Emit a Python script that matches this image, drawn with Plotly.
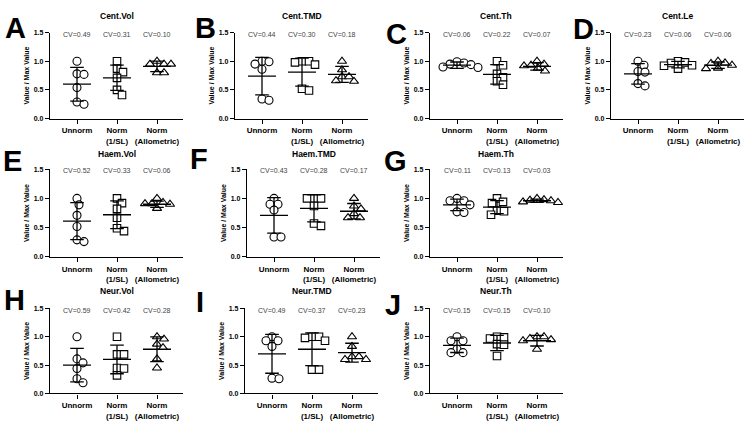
import plotly.graph_objects as go

# ---------------- data ----------------
titles = ["Cent.Vol", "Cent.TMD", "Cent.Th", "Cent.Le",
          "Haem.Vol", "Haem.TMD", "Haem.Th",
          "Neur.Vol", "Neur.TMD", "Neur.Th"]
letters = ["A", "B", "C", "D", "E", "F", "G", "H", "I", "J"]
categories = ["Unnorm", "Norm<br>(1/SL)", "Norm<br>(Allometric)"]
y_ticks = [0, 0.5, 1.0, 1.5]
y_tick_labels = ["0.0", "0.5", "1.0", "1.5"]

# points per group: [Unnorm, Norm (1/SL), Norm (Allometric)]
cent_vol = [[1.0, 0.78, 0.77, 0.54, 0.29, 0.25],
            [1.0, 0.87, 0.81, 0.71, 0.50, 0.41],
            [1.0, 0.95, 0.95, 0.95, 0.80, 0.80]]
cent_tmd = [[1.0, 0.99, 0.95, 0.86, 0.34, 0.32],
            [1.0, 1.0, 0.98, 0.94, 0.52, 0.49],
            [1.0, 0.85, 0.73, 0.73, 0.65, 0.66]]
cent_th = [[0.99, 0.97, 0.95, 0.94, 0.90, 0.89],
           [1.0, 0.93, 0.78, 0.72, 0.65, 0.59],
           [1.0, 0.95, 0.93, 0.92, 0.88, 0.83]]
cent_le = [[1.0, 0.93, 0.82, 0.81, 0.61, 0.57],
           [1.0, 0.98, 0.97, 0.93, 0.92, 0.87],
           [1.0, 0.97, 0.96, 0.93, 0.88, 0.87]]
haem_vol = [[1.0, 0.89, 0.71, 0.52, 0.29, 0.26],
            [1.0, 0.92, 0.82, 0.67, 0.49, 0.44],
            [1.0, 0.93, 0.91, 0.91, 0.90, 0.83]]
haem_tmd = [[1.0, 0.90, 0.90, 0.80, 0.34, 0.34],
            [1.0, 1.0, 1.0, 0.87, 0.57, 0.53],
            [1.0, 0.87, 0.82, 0.74, 0.67, 0.67]]
haem_th = [[1.0, 0.96, 0.96, 0.89, 0.77, 0.76],
           [1.0, 0.94, 0.92, 0.79, 0.78, 0.72],
           [1.0, 0.98, 0.97, 0.96, 0.94, 0.93]]
neur_vol = [[1.0, 0.61, 0.54, 0.44, 0.26, 0.19],
            [1.0, 0.69, 0.69, 0.45, 0.44, 0.32],
            [1.0, 0.96, 0.87, 0.81, 0.61, 0.45]]
neur_tmd = [[1.0, 0.93, 0.93, 0.83, 0.27, 0.26],
            [1.0, 1.0, 0.98, 0.93, 0.42, 0.42],
            [1.0, 0.83, 0.65, 0.65, 0.60, 0.60]]
neur_th = [[1.0, 0.93, 0.93, 0.78, 0.72, 0.72],
           [1.0, 0.99, 0.97, 0.87, 0.86, 0.66],
           [1.0, 1.0, 0.97, 0.95, 0.93, 0.78]]

means = [[0.60, 0.71, 0.91], [0.74, 0.81, 0.77], [0.93, 0.77, 0.91], [0.78, 0.94, 0.93],
         [0.61, 0.72, 0.90], [0.71, 0.83, 0.78], [0.89, 0.85, 0.96],
         [0.50, 0.60, 0.78], [0.70, 0.78, 0.72], [0.85, 0.89, 0.93]]
cvs = [[0.49, 0.31, 0.10], [0.44, 0.30, 0.18], [0.06, 0.22, 0.07], [0.23, 0.06, 0.06],
       [0.52, 0.33, 0.06], [0.43, 0.28, 0.17], [0.11, 0.13, 0.03],
       [0.59, 0.42, 0.28], [0.49, 0.37, 0.23], [0.15, 0.15, 0.10]]

panels = [cent_vol, cent_tmd, cent_th, cent_le, haem_vol, haem_tmd, haem_th,
          neur_vol, neur_tmd, neur_th]

# ---------------- layout geometry (pixels) ----------------
W, H = 751, 426
FONT = "Arial, 'Liberation Sans', Helvetica, sans-serif"
axis_left = [50, 235, 430, 611, 50, 247, 430, 50, 245, 430]
panel_row = [0, 0, 0, 0, 1, 1, 1, 2, 2, 2]
row_top = [29, 168, 309.5]      # pixel of y=1.5
row_bot = [116.5, 257, 396]     # pixel of y=0
title_y = [12, 152, 292]
letter_pos = [(15, 24), (205, 24), (396, 30), (583, 25),
              (13, 160), (199, 158), (395, 160),
              (14, 301), (200, 303), (393, 306)]
AX_LEN = 133
X_RANGE = [-0.675, 2.65]
symbols = ["circle", "square", "triangle-up"]


def swarm(vals, px_per_unit, diam=6.8):
    """simple beeswarm: horizontal offsets (category units)"""
    order = sorted(range(len(vals)), key=lambda i: -vals[i])
    placed = []
    xs = [0.0] * len(vals)
    cands = [0]
    for k in range(1, 30):
        cands += [k, -k]
    for i in order:
        y = vals[i] * px_per_unit
        for off in cands:
            if all((off - px) ** 2 + (y - py) ** 2 >= diam ** 2 for px, py in placed):
                break
        placed.append((off, y))
        xs[i] = off / 40.0
    return xs


fig = go.Figure()
annotations = []
layout_axes = {}

for p in range(10):
    k = p + 1
    xa = "x" if k == 1 else f"x{k}"
    ya = "y" if k == 1 else f"y{k}"
    r = panel_row[p]
    x0 = axis_left[p]
    px_per_unit = (row_bot[r] - row_top[r]) / 1.5

    layout_axes["xaxis" if k == 1 else f"xaxis{k}"] = dict(
        domain=[x0 / W, (x0 + AX_LEN) / W], range=X_RANGE, anchor=ya,
        showline=True, linecolor="black", linewidth=1.3, showgrid=False, zeroline=False,
        tickvals=[0, 1, 2], ticktext=categories, ticks="outside", ticklen=4,
        tickwidth=1.2, tickcolor="black",
        tickfont=dict(family=FONT, size=8, color="black", weight="bold"))
    layout_axes["yaxis" if k == 1 else f"yaxis{k}"] = dict(
        domain=[1 - row_bot[r] / H, 1 - row_top[r] / H], range=[0, 1.5], anchor=xa,
        showline=True, linecolor="black", linewidth=1.3, showgrid=False, zeroline=False,
        tickvals=y_ticks, ticktext=y_tick_labels, ticks="outside", ticklen=4,
        tickwidth=1.2, tickcolor="black",
        tickfont=dict(family=FONT, size=7, color="black", weight="bold"),
        title=dict(text="Value / Max Value", standoff=3,
                   font=dict(family=FONT, size=7, color="black", weight="bold")))

    # points
    for g in range(3):
        vals = panels[p][g]
        offs = swarm(vals, px_per_unit)
        fig.add_trace(go.Scatter(
            x=[g + o for o in offs], y=vals, xaxis=xa, yaxis=ya, mode="markers",
            marker=dict(symbol=symbols[g], size=8 if g != 1 else 7.5, color="white",
                        line=dict(color="black", width=1.1)),
            showlegend=False, hoverinfo="skip", cliponaxis=False))

    # mean and SD bars
    lx, ly = [], []
    for g in range(3):
        m = means[p][g]
        s = cvs[p][g] * m
        lx += [g - 0.35, g + 0.35, None, g, g, None,
               g - 0.17, g + 0.17, None, g - 0.17, g + 0.17, None]
        ly += [m, m, None, m - s, m + s, None,
               m - s, m - s, None, m + s, m + s, None]
    fig.add_trace(go.Scatter(x=lx, y=ly, xaxis=xa, yaxis=ya, mode="lines",
                             line=dict(color="black", width=1.3),
                             showlegend=False, hoverinfo="skip", cliponaxis=False))

    # CV labels
    for g in range(3):
        annotations.append(dict(
            x=g, y=1.47, xref=xa, yref=ya, text=f"CV={cvs[p][g]:.2f}", showarrow=False,
            font=dict(family=FONT, size=7, color="#444444")))

    # title
    annotations.append(dict(
        x=(x0 + AX_LEN / 2) / W, y=1 - title_y[r] / H, xref="paper", yref="paper",
        text=titles[p], showarrow=False, xanchor="center", yanchor="middle",
        font=dict(family=FONT, size=8.5, color="black", weight="bold")))
    # panel letter
    lxp, lyp = letter_pos[p]
    annotations.append(dict(
        x=lxp / W, y=1 - lyp / H, xref="paper", yref="paper", text=letters[p],
        showarrow=False, xanchor="center", yanchor="middle",
        font=dict(family=FONT, size=29, color="black", weight="bold")))

fig.update_layout(width=W, height=H, margin=dict(l=0, r=0, t=0, b=0),
                  paper_bgcolor="white", plot_bgcolor="white",
                  annotations=annotations, **layout_axes)

fig.write_html("out.html", config={"displayModeBar": False},
               post_script="document.body.style.margin='0';document.body.style.padding='0';")
